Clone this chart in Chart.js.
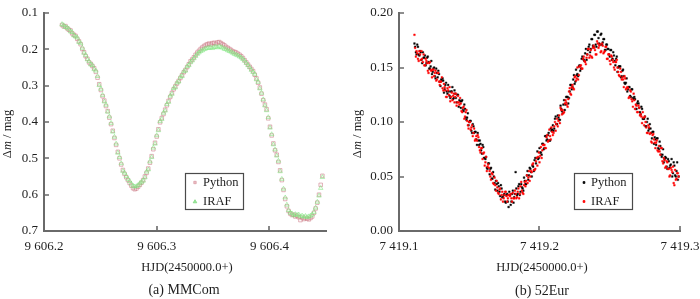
<!DOCTYPE html>
<html><head><meta charset="utf-8">
<script src="https://cdn.jsdelivr.net/npm/chart.js@4.4.1/dist/chart.umd.min.js"></script>
<style>
html,body{margin:0;padding:0;background:#fff;}
#wrap{position:relative;width:700px;height:299px;}
.pane{position:absolute;top:0;width:350px;height:299px;}
canvas{display:block;}
</style></head><body>
<div id="wrap">
<div class="pane" style="left:0"><canvas id="c1" width="350" height="299"></canvas></div>
<div class="pane" style="left:350px"><canvas id="c2" width="350" height="299"></canvas></div>
</div>
<script>
// ---------- Panel (a) MMCom ----------
const mmcomHJD = [
9606.2160,9606.2175,9606.2190,9606.2205,9606.2220,9606.2235,9606.2250,9606.2265,9606.2280,9606.2295,
9606.2310,9606.2325,9606.2340,9606.2355,9606.2370,9606.2385,9606.2400,9606.2415,9606.2430,9606.2445,
9606.2460,9606.2475,9606.2490,9606.2505,9606.2520,9606.2535,9606.2550,9606.2565,9606.2580,9606.2595,
9606.2610,9606.2625,9606.2640,9606.2655,9606.2670,9606.2685,9606.2700,9606.2715,9606.2730,9606.2745,
9606.2760,9606.2775,9606.2790,9606.2805,9606.2820,9606.2835,9606.2850,9606.2865,9606.2880,9606.2895,
9606.2910,9606.2925,9606.2940,9606.2955,9606.2970,9606.2985,9606.3000,9606.3015,9606.3030,9606.3045,
9606.3060,9606.3075,9606.3090,9606.3105,9606.3120,9606.3135,9606.3150,9606.3165,9606.3180,9606.3195,
9606.3210,9606.3225,9606.3240,9606.3255,9606.3270,9606.3285,9606.3300,9606.3315,9606.3330,9606.3345,
9606.3360,9606.3375,9606.3390,9606.3405,9606.3420,9606.3435,9606.3450,9606.3465,9606.3480,9606.3495,
9606.3510,9606.3525,9606.3540,9606.3555,9606.3570,9606.3585,9606.3600,9606.3615,9606.3630,9606.3645,
9606.3660,9606.3675,9606.3690,9606.3705,9606.3720,9606.3735,9606.3750,9606.3765,9606.3780,9606.3795,
9606.3810,9606.3825,9606.3840,9606.3855,9606.3870,9606.3885,9606.3900,9606.3915,9606.3930,9606.3945,
9606.3960,9606.3975,9606.3990,9606.4005,9606.4020,9606.4035,9606.4050,9606.4065,9606.4080,9606.4095,
9606.4110,9606.4125,9606.4140,9606.4155,9606.4170,9606.4185,9606.4200,9606.4215,9606.4230,9606.4245,
9606.4260,9606.4275,9606.4290,9606.4305,9606.4320,9606.4335,9606.4350,9606.4365,9606.4380,9606.4395,
9606.4410,9606.4425,9606.4440,9606.4455,9606.4470];
const mmcomPython = [
0.133,0.137,0.136,0.142,0.146,0.148,0.156,0.160,0.163,0.171,
0.178,0.186,0.199,0.208,0.219,0.226,0.236,0.240,0.246,0.252,
0.262,0.278,0.296,0.312,0.329,0.341,0.356,0.370,0.388,0.406,
0.424,0.444,0.463,0.482,0.500,0.517,0.532,0.543,0.552,0.560,
0.568,0.575,0.582,0.585,0.583,0.578,0.573,0.567,0.560,0.550,
0.540,0.528,0.512,0.494,0.475,0.457,0.440,0.420,0.401,0.389,
0.378,0.366,0.354,0.342,0.331,0.320,0.310,0.302,0.294,0.287,
0.279,0.271,0.263,0.257,0.249,0.241,0.233,0.228,0.222,0.215,
0.209,0.204,0.199,0.195,0.191,0.188,0.186,0.184,0.187,0.183,
0.182,0.185,0.181,0.180,0.183,0.186,0.189,0.193,0.196,0.199,
0.202,0.206,0.207,0.209,0.212,0.215,0.219,0.224,0.230,0.236,
0.242,0.248,0.254,0.260,0.270,0.280,0.292,0.305,0.322,0.340,
0.352,0.365,0.390,0.413,0.437,0.459,0.478,0.490,0.510,0.533,
0.560,0.587,0.612,0.632,0.645,0.652,0.656,0.655,0.660,0.658,
0.662,0.670,0.663,0.667,0.664,0.666,0.668,0.664,0.660,0.650,
0.638,0.622,0.600,0.573,0.548];
const mmcomIRAF = [
0.131,0.134,0.139,0.140,0.144,0.151,0.153,0.162,0.165,0.168,
0.180,0.183,0.196,0.210,0.216,0.228,0.233,0.242,0.244,0.255,
0.259,0.274,0.299,0.309,0.326,0.344,0.353,0.372,0.385,0.403,
0.427,0.441,0.460,0.485,0.497,0.514,0.535,0.540,0.549,0.557,
0.563,0.570,0.576,0.578,0.577,0.574,0.569,0.565,0.562,0.553,
0.537,0.531,0.509,0.497,0.471,0.460,0.437,0.423,0.398,0.392,
0.375,0.369,0.351,0.345,0.328,0.323,0.307,0.305,0.292,0.289,
0.276,0.274,0.261,0.259,0.247,0.244,0.236,0.231,0.225,0.219,
0.213,0.209,0.205,0.203,0.200,0.198,0.197,0.196,0.195,0.197,
0.194,0.193,0.195,0.192,0.194,0.196,0.199,0.200,0.203,0.205,
0.207,0.210,0.213,0.215,0.217,0.220,0.223,0.227,0.232,0.238,
0.244,0.250,0.257,0.263,0.268,0.283,0.290,0.308,0.320,0.338,
0.355,0.368,0.387,0.416,0.434,0.462,0.476,0.493,0.507,0.536,
0.557,0.584,0.608,0.628,0.643,0.650,0.652,0.657,0.654,0.656,
0.655,0.660,0.658,0.661,0.659,0.662,0.660,0.658,0.655,0.648,
0.636,0.620,0.603,0.582,0.552];
const mmcomXTicks = [9606.2, 9606.3, 9606.4];
const mmcomYTicks = [0.1, 0.2, 0.3, 0.4, 0.5, 0.6, 0.7];

// ---------- Panel (b) 52Eur : first batch of frames ----------
const eurHJD = [
7419.111,7419.112,7419.113,7419.114,7419.115,7419.116,7419.117,7419.118,7419.119,7419.120,
7419.121,7419.122,7419.123,7419.124,7419.125,7419.126,7419.127,7419.128,7419.129,7419.130,
7419.131,7419.132,7419.133,7419.134,7419.135,7419.136,7419.137,7419.138,7419.139,7419.140,
7419.141,7419.142,7419.143,7419.144,7419.145,7419.146,7419.147,7419.148,7419.149,7419.150,
7419.151,7419.152,7419.153,7419.154,7419.155,7419.156,7419.157,7419.158,7419.159,7419.160,
7419.161,7419.162,7419.163,7419.164,7419.165,7419.166,7419.167,7419.168,7419.169,7419.170,
7419.171,7419.172,7419.173,7419.174,7419.175,7419.176,7419.177,7419.178,7419.179,7419.180,
7419.181,7419.182,7419.183,7419.184,7419.185,7419.186,7419.187,7419.188,7419.189,7419.190,
7419.191,7419.192,7419.193,7419.194,7419.195,7419.196,7419.197,7419.198,7419.199,7419.200,
7419.201,7419.202,7419.203,7419.204,7419.205,7419.206,7419.207,7419.208,7419.209,7419.210,
7419.211,7419.212,7419.213,7419.214,7419.215,7419.216,7419.217,7419.218,7419.219,7419.220,
7419.221,7419.222,7419.223,7419.224,7419.225,7419.226,7419.227,7419.228,7419.229,7419.230,
7419.231,7419.232,7419.233,7419.234,7419.235,7419.236,7419.237,7419.238,7419.239,7419.240,
7419.241,7419.242,7419.243,7419.244,7419.245,7419.246,7419.247,7419.248,7419.249,7419.250,
7419.251,7419.252,7419.253,7419.254,7419.255,7419.256,7419.257,7419.258,7419.259,7419.260,
7419.261,7419.262,7419.263,7419.264,7419.265,7419.266,7419.267,7419.268,7419.269,7419.270,
7419.271,7419.272,7419.273,7419.274,7419.275,7419.276,7419.277,7419.278,7419.279,7419.280,
7419.281,7419.282,7419.283,7419.284,7419.285,7419.286,7419.287,7419.288,7419.289,7419.290,
7419.291,7419.292,7419.293,7419.294,7419.295,7419.296,7419.297,7419.298,7419.299];
const eurPython = [
0.172,0.164,0.171,0.162,0.165,0.157,0.164,0.159,0.152,0.159,
0.155,0.149,0.156,0.146,0.150,0.140,0.145,0.147,0.137,0.139,
0.140,0.127,0.134,0.128,0.134,0.124,0.128,0.132,0.122,0.126,
0.118,0.125,0.120,0.113,0.120,0.110,0.112,0.102,0.108,0.100,
0.101,0.090,0.096,0.091,0.084,0.090,0.079,0.080,0.071,0.077,
0.067,0.068,0.057,0.062,0.057,0.048,0.054,0.044,0.046,0.037,
0.041,0.032,0.039,0.031,0.034,0.026,0.034,0.022,0.033,0.027,
0.037,0.031,0.054,0.033,0.041,0.033,0.043,0.039,0.049,0.043,
0.051,0.047,0.058,0.054,0.060,0.055,0.067,0.067,0.066,0.076,
0.072,0.080,0.075,0.087,0.083,0.088,0.083,0.094,0.093,0.092,
0.103,0.098,0.106,0.102,0.115,0.110,0.116,0.111,0.123,0.123,
0.122,0.134,0.130,0.139,0.135,0.148,0.144,0.151,0.147,0.158,
0.158,0.156,0.167,0.162,0.169,0.164,0.176,0.170,0.180,0.171,
0.183,0.177,0.171,0.181,0.173,0.176,0.166,0.171,0.167,0.160,
0.166,0.158,0.161,0.152,0.160,0.150,0.151,0.141,0.147,0.142,
0.135,0.140,0.130,0.132,0.123,0.130,0.121,0.121,0.112,0.119,
0.113,0.107,0.112,0.103,0.105,0.096,0.103,0.094,0.094,0.085,
0.091,0.086,0.079,0.085,0.075,0.078,0.068,0.075,0.066,0.067,
0.057,0.064,0.060,0.066,0.053,0.060,0.050,0.063,0.050];
const eurIRAF = [
0.180,0.160,0.163,0.156,0.162,0.165,0.155,0.152,0.158,0.154,
0.145,0.155,0.147,0.148,0.142,0.147,0.139,0.145,0.134,0.137,
0.131,0.135,0.129,0.123,0.129,0.132,0.123,0.120,0.126,0.123,
0.115,0.124,0.116,0.117,0.109,0.114,0.105,0.111,0.097,0.100,
0.093,0.097,0.090,0.083,0.087,0.088,0.077,0.072,0.076,0.071,
0.060,0.068,0.059,0.058,0.050,0.053,0.044,0.049,0.037,0.040,
0.034,0.039,0.033,0.027,0.033,0.036,0.027,0.033,0.032,0.030,
0.035,0.030,0.034,0.031,0.039,0.034,0.045,0.035,0.042,0.041,
0.051,0.049,0.046,0.055,0.061,0.056,0.057,0.067,0.068,0.063,
0.077,0.074,0.079,0.076,0.086,0.082,0.093,0.084,0.091,0.090,
0.100,0.098,0.096,0.106,0.113,0.107,0.108,0.117,0.118,0.114,
0.128,0.126,0.132,0.131,0.141,0.138,0.150,0.143,0.151,0.149,
0.158,0.156,0.153,0.162,0.167,0.161,0.160,0.168,0.168,0.162,
0.174,0.168,0.171,0.165,0.170,0.164,0.169,0.158,0.162,0.156,
0.161,0.157,0.150,0.155,0.157,0.146,0.142,0.146,0.141,0.132,
0.140,0.131,0.131,0.123,0.128,0.119,0.126,0.112,0.115,0.109,
0.113,0.107,0.099,0.104,0.105,0.095,0.090,0.095,0.090,0.081,
0.089,0.081,0.081,0.074,0.078,0.070,0.076,0.062,0.065,0.059,
0.063,0.057,0.051,0.056,0.059,0.042,0.047,0.053,0.050];

// ---------- Panel (b) 52Eur : second (interleaved) batch of frames ----------
const eurHJD2 = [
7419.1115,7419.1125,7419.1135,7419.1145,7419.1155,7419.1165,7419.1175,7419.1185,7419.1195,7419.1205,
7419.1215,7419.1225,7419.1235,7419.1245,7419.1255,7419.1265,7419.1275,7419.1285,7419.1295,7419.1305,
7419.1315,7419.1325,7419.1335,7419.1345,7419.1355,7419.1365,7419.1375,7419.1385,7419.1395,7419.1405,
7419.1415,7419.1425,7419.1435,7419.1445,7419.1455,7419.1465,7419.1475,7419.1485,7419.1495,7419.1505,
7419.1515,7419.1525,7419.1535,7419.1545,7419.1555,7419.1565,7419.1575,7419.1585,7419.1595,7419.1605,
7419.1615,7419.1625,7419.1635,7419.1645,7419.1655,7419.1665,7419.1675,7419.1685,7419.1695,7419.1705,
7419.1715,7419.1725,7419.1735,7419.1745,7419.1755,7419.1765,7419.1775,7419.1785,7419.1795,7419.1805,
7419.1815,7419.1825,7419.1835,7419.1845,7419.1855,7419.1865,7419.1875,7419.1885,7419.1895,7419.1905,
7419.1915,7419.1925,7419.1935,7419.1945,7419.1955,7419.1965,7419.1975,7419.1985,7419.1995,7419.2005,
7419.2015,7419.2025,7419.2035,7419.2045,7419.2055,7419.2065,7419.2075,7419.2085,7419.2095,7419.2105,
7419.2115,7419.2125,7419.2135,7419.2145,7419.2155,7419.2165,7419.2175,7419.2185,7419.2195,7419.2205,
7419.2215,7419.2225,7419.2235,7419.2245,7419.2255,7419.2265,7419.2275,7419.2285,7419.2295,7419.2305,
7419.2315,7419.2325,7419.2335,7419.2345,7419.2355,7419.2365,7419.2375,7419.2385,7419.2395,7419.2405,
7419.2415,7419.2425,7419.2435,7419.2445,7419.2455,7419.2465,7419.2475,7419.2485,7419.2495,7419.2505,
7419.2515,7419.2525,7419.2535,7419.2545,7419.2555,7419.2565,7419.2575,7419.2585,7419.2595,7419.2605,
7419.2615,7419.2625,7419.2635,7419.2645,7419.2655,7419.2665,7419.2675,7419.2685,7419.2695,7419.2705,
7419.2715,7419.2725,7419.2735,7419.2745,7419.2755,7419.2765,7419.2775,7419.2785,7419.2795,7419.2805,
7419.2815,7419.2825,7419.2835,7419.2845,7419.2855,7419.2865,7419.2875,7419.2885,7419.2895,7419.2905,
7419.2915,7419.2925,7419.2935,7419.2945,7419.2955,7419.2965,7419.2975,7419.2985];
const eurPython2 = [
0.169,0.162,0.169,0.161,0.164,0.154,0.159,0.161,0.154,0.160,
0.149,0.151,0.144,0.149,0.142,0.149,0.141,0.144,0.133,0.138,
0.138,0.130,0.136,0.126,0.128,0.122,0.128,0.121,0.129,0.122,
0.125,0.114,0.119,0.119,0.111,0.116,0.104,0.104,0.097,0.101,
0.092,0.098,0.090,0.091,0.079,0.083,0.083,0.074,0.079,0.067,
0.066,0.058,0.062,0.052,0.058,0.048,0.050,0.038,0.043,0.044,
0.036,0.042,0.031,0.033,0.027,0.033,0.027,0.036,0.024,0.034,
0.026,0.034,0.039,0.034,0.043,0.036,0.040,0.037,0.046,0.043,
0.055,0.051,0.057,0.050,0.059,0.065,0.062,0.073,0.067,0.072,
0.070,0.080,0.076,0.087,0.084,0.090,0.083,0.092,0.097,0.094,
0.105,0.098,0.104,0.102,0.112,0.108,0.120,0.116,0.123,0.117,
0.128,0.134,0.132,0.143,0.137,0.143,0.142,0.152,0.149,0.160,
0.157,0.163,0.157,0.166,0.171,0.167,0.176,0.169,0.180,0.169,
0.183,0.172,0.180,0.171,0.176,0.166,0.171,0.167,0.162,0.166,
0.157,0.164,0.156,0.158,0.146,0.151,0.151,0.142,0.148,0.136,
0.136,0.128,0.132,0.124,0.130,0.122,0.123,0.112,0.117,0.117,
0.109,0.114,0.103,0.103,0.096,0.100,0.092,0.098,0.090,0.091,
0.080,0.084,0.085,0.076,0.082,0.070,0.070,0.063,0.068,0.059,
0.066,0.058,0.061,0.050,0.063,0.051,0.055,0.047];
const eurIRAF2 = [
0.168,0.165,0.158,0.165,0.157,0.158,0.162,0.152,0.156,0.147,
0.154,0.148,0.141,0.148,0.145,0.138,0.145,0.137,0.137,0.141,
0.129,0.132,0.123,0.131,0.125,0.119,0.127,0.124,0.118,0.126,
0.118,0.118,0.122,0.110,0.113,0.103,0.109,0.101,0.094,0.100,
0.095,0.087,0.094,0.084,0.083,0.086,0.074,0.076,0.066,0.072,
0.063,0.055,0.061,0.055,0.047,0.052,0.043,0.042,0.046,0.035,
0.038,0.029,0.036,0.030,0.036,0.032,0.030,0.033,0.034,0.027,
0.030,0.037,0.030,0.036,0.030,0.041,0.037,0.034,0.045,0.046,
0.044,0.055,0.050,0.054,0.062,0.056,0.064,0.060,0.072,0.069,
0.067,0.079,0.079,0.076,0.088,0.083,0.087,0.095,0.088,0.096,
0.092,0.103,0.101,0.099,0.111,0.111,0.109,0.120,0.116,0.121,
0.131,0.125,0.134,0.130,0.142,0.140,0.139,0.151,0.152,0.149,
0.160,0.155,0.159,0.167,0.159,0.166,0.159,0.170,0.166,0.162,
0.172,0.170,0.164,0.172,0.163,0.165,0.169,0.158,0.162,0.153,
0.160,0.155,0.148,0.155,0.150,0.143,0.149,0.139,0.139,0.142,
0.130,0.132,0.122,0.129,0.121,0.114,0.120,0.116,0.109,0.115,
0.106,0.105,0.109,0.097,0.100,0.090,0.097,0.089,0.082,0.088,
0.084,0.076,0.083,0.073,0.073,0.076,0.064,0.067,0.058,0.064,
0.057,0.050,0.058,0.054,0.044,0.056,0.048,0.053];
const eurXTicks = [7419.1, 7419.2, 7419.3];
const eurYTicks = [0.00, 0.05, 0.10, 0.15, 0.20];

const seriesNames = ['Python', 'IRAF'];
const xTitleText = 'HJD(2450000.0+)';
const captions = ['(a) MMCom', '(b) 52Eur'];

// ---------- rendering ----------
const SERIF = '"Liberation Serif", "Times New Roman", serif';
const AXIS = '#6a6a6a';
const TXT = '#1e1e1e';

function pts(xs, ys) { return xs.map((x, i) => ({x: x, y: ys[i]})); }
function fmt(v, d) {
  const s = Number(v).toFixed(d);
  const parts = s.split('.');
  return parts[0].replace(/\B(?=(\d{3})+(?!\d))/g, ' ') + (parts[1] !== undefined ? '.' + parts[1] : '');
}

const decor = {
  id: 'decor',
  afterDraw(chart, args, o) {
    const ctx = chart.ctx, a = chart.chartArea;
    const xs = chart.scales.x, ys = chart.scales.y;
    ctx.save();
    // inward tick marks
    ctx.strokeStyle = AXIS; ctx.lineWidth = 1.6;
    ctx.beginPath();
    xs.ticks.forEach(t => { const p = Math.round(xs.getPixelForValue(t.value)); ctx.moveTo(p, a.bottom); ctx.lineTo(p, a.bottom - 5); });
    ys.ticks.forEach(t => { const p = Math.round(ys.getPixelForValue(t.value)); ctx.moveTo(a.left, p); ctx.lineTo(a.left + 5, p); });
    ctx.stroke();
    // x title + caption
    ctx.fillStyle = TXT; ctx.textAlign = 'center'; ctx.textBaseline = 'middle';
    ctx.font = '12.5px ' + SERIF;
    ctx.fillText(o.xTitle, o.xTitleX, o.xTitleY);
    ctx.font = '14px ' + SERIF;
    ctx.fillText(o.caption, o.captionX, o.captionY);
    // y title (rotated, italic m)
    ctx.save();
    ctx.translate(o.yTitleX, o.yTitleY);
    ctx.rotate(-Math.PI / 2);
    const parts = [['\u0394', ''], ['m', 'italic '], [' / mag', '']];
    let total = 0;
    parts.forEach(p => { ctx.font = p[1] + '12.5px ' + SERIF; p.push(ctx.measureText(p[0]).width); total += p[2]; });
    let cx = -total / 2;
    ctx.textAlign = 'left';
    parts.forEach(p => { ctx.font = p[1] + '12.5px ' + SERIF; ctx.fillText(p[0], cx, 0); cx += p[2]; });
    ctx.restore();
    // legend box
    const L = o.legend;
    ctx.strokeStyle = '#4a4a4a'; ctx.lineWidth = 1.2;
    ctx.strokeRect(L.x + 0.5, L.y + 0.5, L.w, L.h);
    ctx.textAlign = 'left'; ctx.textBaseline = 'middle';
    ctx.font = '12.5px ' + SERIF;
    chart.data.datasets.forEach((ds, i) => {
      const my = L.y + L.rowY[i];
      const mx = L.x + L.markX;
      ctx.fillStyle = ds.legendMarkFill || ds.backgroundColor;
      ctx.strokeStyle = ds.legendMarkStroke || ds.borderColor;
      ctx.lineWidth = 0.8;
      ctx.beginPath();
      if (ds.pointStyle === 'triangle') {
        ctx.moveTo(mx, my - 1.8); ctx.lineTo(mx + 1.8, my + 1.3); ctx.lineTo(mx - 1.8, my + 1.3); ctx.closePath();
      } else {
        ctx.rect(mx - L.markR, my - L.markR, 2 * L.markR, 2 * L.markR);
      }
      ctx.fill(); ctx.stroke();
      ctx.fillStyle = TXT;
      ctx.fillText(ds.label, L.x + L.textX, my + 0.5);
    });
    ctx.restore();
  }
};

function makeChart(id, cfg) {
  return new Chart(document.getElementById(id), {
    type: 'scatter',
    data: { datasets: cfg.datasets },
    options: {
      responsive: false, animation: false, devicePixelRatio: 1,
      layout: { padding: { left: 0, top: 13, right: cfg.padRight, bottom: 0 } },
      plugins: { legend: { display: false }, tooltip: { enabled: false }, title: { display: false },
                 decor: cfg.decor },
      scales: {
        x: {
          type: 'linear', position: 'bottom', min: cfg.xMin, max: cfg.xMax,
          grid: { display: true, drawOnChartArea: false, drawTicks: false },
          border: { display: true, color: AXIS, width: 2 },
          ticks: { padding: 8, color: TXT, font: { family: SERIF, size: 13 }, maxRotation: 0,
                   callback: v => fmt(v, 1) },
          afterBuildTicks: s => { s.ticks = cfg.xTicks.map(v => ({ value: v })); },
          afterFit: s => { s.height = 68; s.paddingLeft = 0; s.paddingRight = 0; }
        },
        y: {
          type: 'linear', position: 'left', min: cfg.yMin, max: cfg.yMax, reverse: cfg.yReverse,
          grid: { display: true, drawOnChartArea: false, drawTicks: false },
          border: { display: true, color: AXIS, width: 2 },
          ticks: { padding: 6, color: TXT, font: { family: SERIF, size: 13 },
                   callback: v => fmt(v, cfg.yDec) },
          afterBuildTicks: s => { s.ticks = cfg.yTicks.map(v => ({ value: v })); },
          afterFit: s => { s.width = cfg.yWidth; s.paddingTop = 0; s.paddingBottom = 0; }
        }
      }
    },
    plugins: [decor]
  });
}

makeChart('c1', {
  padRight: 24, yWidth: 44, xMin: 9606.2, xMax: 9606.4502, yMin: 0.1, yMax: 0.7, yReverse: true, yDec: 1,
  xTicks: mmcomXTicks, yTicks: mmcomYTicks,
  datasets: [
    { label: seriesNames[0], data: pts(mmcomHJD, mmcomPython), order: 1,
      pointStyle: 'rect', pointRadius: 2.5, borderWidth: 1,
      borderColor: 'rgba(200,110,122,0.5)', backgroundColor: 'rgba(240,205,210,0.12)',
      legendMarkFill: 'rgba(235,185,192,0.9)', legendMarkStroke: 'rgba(215,150,160,0.9)' },
    { label: seriesNames[1], data: pts(mmcomHJD, mmcomIRAF), order: 0,
      pointStyle: 'triangle', pointRadius: 2.6, borderWidth: 1,
      borderColor: 'rgba(120,228,120,0.5)', backgroundColor: 'rgba(190,248,190,0.2)',
      legendMarkFill: 'rgba(150,230,150,0.9)', legendMarkStroke: 'rgba(120,215,120,0.9)' }
  ],
  decor: { xTitle: xTitleText, xTitleX: 187, xTitleY: 268, caption: captions[0], captionX: 184, captionY: 290,
           yTitleX: 8, yTitleY: 134,
           legend: { x: 185, y: 173, w: 58, h: 36, rowY: [9.5, 28.5], markX: 10, textX: 18, markR: 1.2 } }
});

makeChart('c2', {
  padRight: 20, yWidth: 49, xMin: 7419.1, xMax: 7419.3, yMin: 0, yMax: 0.2, yReverse: false, yDec: 2,
  xTicks: eurXTicks, yTicks: eurYTicks,
  datasets: [
    { label: seriesNames[0], data: pts(eurHJD, eurPython).concat(pts(eurHJD2, eurPython2)), order: 1,
      pointStyle: 'rect', pointRadius: 1.2, borderWidth: 0.4,
      borderColor: '#000000', backgroundColor: '#000000' },
    { label: seriesNames[1], data: pts(eurHJD, eurIRAF).concat(pts(eurHJD2, eurIRAF2)), order: 0,
      pointStyle: 'rect', pointRadius: 1.2, borderWidth: 0.4,
      borderColor: '#ff0000', backgroundColor: '#ff0000' }
  ],
  decor: { xTitle: xTitleText, xTitleX: 192, xTitleY: 268, caption: captions[1], captionX: 192, captionY: 291,
           yTitleX: 8, yTitleY: 134,
           legend: { x: 224, y: 173, w: 58, h: 36, rowY: [9.5, 28.5], markX: 10, textX: 17, markR: 0.9 } }
});
</script>
</body></html>
